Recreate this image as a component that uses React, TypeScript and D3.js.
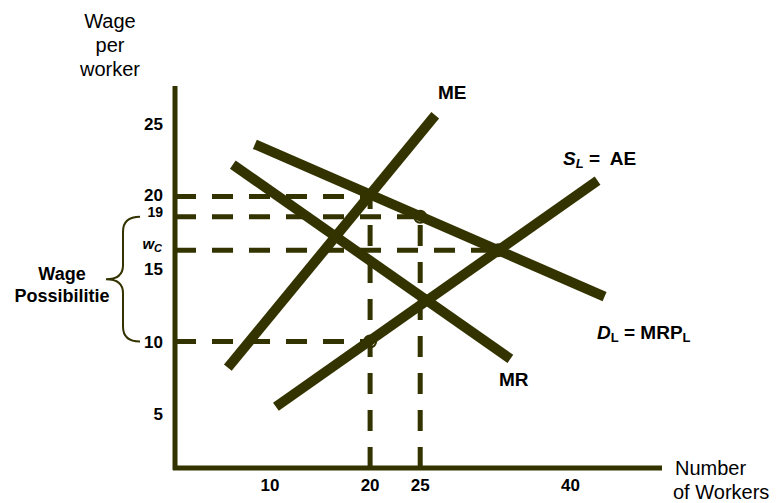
import React from "react";
import * as d3 from "d3";

// ---- data (wage vs number of workers) ----
const curveNames = ["ME", "MR", "DL", "SL"];
const curveStart = [
  [5.8, 8.2],
  [6.3, 22.2],
  [8.5, 23.6],
  [10.6, 5.5],
];
const curveEnd = [
  [26.5, 25.6],
  [34.0, 8.8],
  [43.4, 13.1],
  [42.7, 21.1],
];
// reference (dashed) points: [workers, wage]
const refPoints = [
  [20, 20],
  [25, 18.6],
  [32.8, 16.3],
  [20, 10],
];
const verticalRefs = [0, 1]; // indices into refPoints with vertical dashed lines
const circledPoints = [3, 1, 2];
const yTickValues = [25, 20, 19, 15, 10, 5];
const xTickValues = [10, 20, 25, 40];

const COLOR = "#333300";
const FONT = "'Liberation Sans', Arial, sans-serif";

export default function App() {
  const x = d3.scaleLinear().domain([0, 40]).range([169.7, 570.5]);
  const y = d3.scaleLinear().domain([0, 20]).range([486.5, 196.5]);

  const axisX = x(0.53);
  const axisY = y(1.28);
  const line = d3.line<number[]>().x((d) => x(d[0])).y((d) => y(d[1]));

  const braceTop = y(refPoints[1][1]);
  const braceBot = y(refPoints[3][1]);
  const braceMid = (braceTop + braceBot) / 2 + 0;
  const bx = 123;
  const brace = `M140,${braceTop} Q${bx},${braceTop} ${bx},${braceTop + 15} L${bx},${braceMid - 14} Q${bx},${braceMid} ${bx - 17},${braceMid} Q${bx},${braceMid} ${bx},${braceMid + 14} L${bx},${braceBot - 15} Q${bx},${braceBot} 140,${braceBot}`;

  const tickShift = (v: number) => (v === 20 ? -2 : v === 19 ? 1 : 0);

  return (
    <svg
      width={778}
      height={503}
      style={{ position: "absolute", left: 0, top: 0, background: "#fff" }}
      fontFamily={FONT}
    >
      {/* y-axis title */}
      <g fontSize={20} textAnchor="middle" fill="#000">
        <text x={110} y={28}>Wage</text>
        <text x={110} y={52}>per</text>
        <text x={110} y={76}>worker</text>
      </g>
      {/* x-axis title */}
      <g fontSize={20} fill="#000">
        <text x={675} y={475}>Number</text>
        <text x={673} y={499}>of Workers</text>
      </g>

      {/* dashed reference lines */}
      <g stroke={COLOR} strokeWidth={5} strokeDasharray="21,16" fill="none">
        {refPoints.map((p, i) => (
          <line key={"h" + i} x1={axisX} x2={x(p[0])} y1={y(p[1])} y2={y(p[1])} />
        ))}
        {verticalRefs.map((i) => (
          <line
            key={"v" + i}
            x1={x(refPoints[i][0])}
            x2={x(refPoints[i][0])}
            y1={axisY}
            y2={y(refPoints[i][1])}
          />
        ))}
      </g>

      {/* circles */}
      <g stroke={COLOR} strokeWidth={2} fill="none">
        {circledPoints.map((i) => (
          <circle key={i} cx={x(refPoints[i][0])} cy={y(refPoints[i][1])} r={6} />
        ))}
      </g>

      {/* curves */}
      <g stroke={COLOR} strokeWidth={10} fill="none">
        {curveNames.map((n, i) => (
          <path key={n} d={line([curveStart[i], curveEnd[i]]) || ""} />
        ))}
      </g>

      {/* axes */}
      <g stroke={COLOR} strokeWidth={5}>
        <line x1={axisX} x2={axisX} y1={86} y2={axisY + 2} />
        <line x1={axisX - 2} x2={662} y1={axisY} y2={axisY} />
      </g>

      {/* y tick labels */}
      <g fontWeight="bold" textAnchor="end" fill="#000">
        {yTickValues.map((v) => (
          <text
            key={v}
            x={163}
            y={y(v) + tickShift(v)}
            dy="0.36em"
            fontSize={v === 19 ? 14 : 17}
          >
            {v}
          </text>
        ))}
        <text x={162} y={y(refPoints[2][1]) - 7} dy="0.36em" fontSize={15} fontStyle="italic">
          w<tspan fontSize={11} dy="3">C</tspan>
        </text>
      </g>

      {/* x tick labels */}
      <g fontWeight="bold" textAnchor="middle" fontSize={17} fill="#000">
        {xTickValues.map((v) => (
          <text key={v} x={x(v)} y={491}>
            {v}
          </text>
        ))}
      </g>

      {/* brace + label */}
      <path d={brace} stroke={COLOR} strokeWidth={2} fill="none" />
      <g fontWeight="bold" fontSize={18} textAnchor="middle" fill="#000">
        <text x={62} y={280}>Wage</text>
        <text x={62} y={302}>Possibilitie</text>
      </g>

      {/* curve labels */}
      <g fontWeight="bold" fontSize={19} fill="#000">
        <text x={438} y={99}>ME</text>
        <text x={499} y={386}>MR</text>
        <text x={563} y={165} style={{ whiteSpace: "pre" }}>
          <tspan fontStyle="italic">S</tspan>
          <tspan fontStyle="italic" fontSize={13} dy="3">L</tspan>
          <tspan dy="-3">{" =  AE"}</tspan>
        </text>
        <text x={597} y={339}>
          <tspan fontStyle="italic">D</tspan>
          <tspan fontSize={13} dy="3">L</tspan>
          <tspan dy="-3"> = MRP</tspan>
          <tspan fontSize={13} dy="3">L</tspan>
        </text>
      </g>
    </svg>
  );
}
